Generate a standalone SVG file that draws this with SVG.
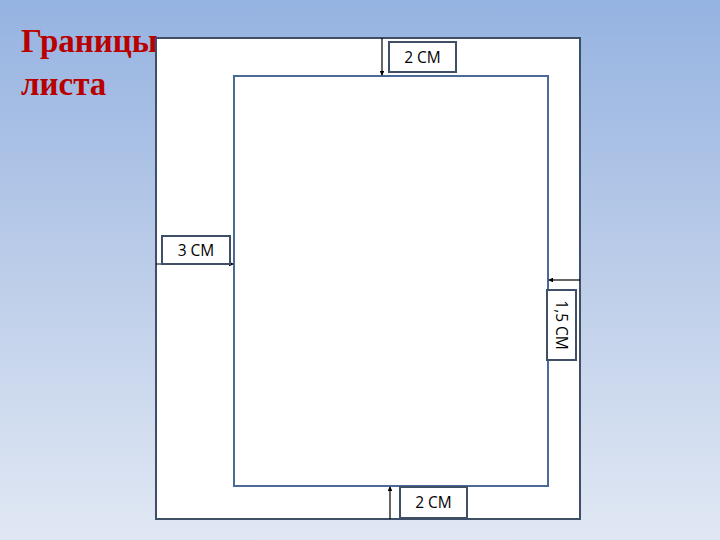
<svg xmlns="http://www.w3.org/2000/svg" width="720" height="540" viewBox="0 0 720 540">
<defs>
<linearGradient id="bg" x1="0" y1="0" x2="0" y2="1">
<stop offset="0" stop-color="#95b3e1"/>
<stop offset="0.5" stop-color="#bccde9"/>
<stop offset="1" stop-color="#e1e8f4"/>
</linearGradient>
<marker id="ah" viewBox="0 0 6 6" refX="5" refY="3" markerWidth="4" markerHeight="4" orient="auto">
<path d="M0,0 L6,3 L0,6 z" fill="#000"/>
</marker>
<style>
.title{font-family:"Liberation Serif","Times New Roman",serif;font-weight:bold;font-size:33px;fill:#b80000}
.lbl{font-family:"Open Sans","Liberation Sans",sans-serif;font-size:15.5px;fill:#000}
.box{fill:#fff;stroke:#3f4f66;stroke-width:2}
.conn{stroke:#000;stroke-width:1.2;fill:none}
</style>
</defs>
<rect width="720" height="540" fill="url(#bg)"/>
<g id="title">
<text class="title" x="21" y="52">Границы</text>
<text class="title" x="21" y="95">листа</text>
</g>
<g id="page"><rect x="156" y="38" width="424" height="481" fill="#fff" stroke="#3f4f66" stroke-width="2"/></g>
<g id="field"><rect x="234" y="76" width="314" height="410" fill="#fff" stroke="#4a6a9a" stroke-width="2"/></g>
<g id="connectors">
<line class="conn" x1="382" y1="38" x2="382" y2="75" marker-end="url(#ah)"/>
<line class="conn" x1="156" y1="264" x2="233" y2="264" marker-end="url(#ah)"/>
<line class="conn" x1="580" y1="280" x2="549" y2="280" marker-end="url(#ah)"/>
<line class="conn" x1="390" y1="519" x2="390" y2="487" stroke-width="2" marker-end="url(#ah)"/>
</g>
<g id="label-top"><rect class="box" x="389" y="42" width="67" height="30"/><text class="lbl" x="422.5" y="63" text-anchor="middle">2 СМ</text></g>
<g id="label-left"><rect class="box" x="162" y="236" width="68" height="28"/><text class="lbl" x="196" y="256" text-anchor="middle">3 СМ</text></g>
<g id="label-right"><rect class="box" x="547" y="290" width="29" height="70"/><text class="lbl" transform="translate(561.5 325) rotate(90)" y="5.5" text-anchor="middle">1,5 СМ</text></g>
<g id="label-bottom"><rect class="box" x="400" y="487" width="67" height="31"/><text class="lbl" x="433.5" y="508" text-anchor="middle">2 СМ</text></g>
</svg>
